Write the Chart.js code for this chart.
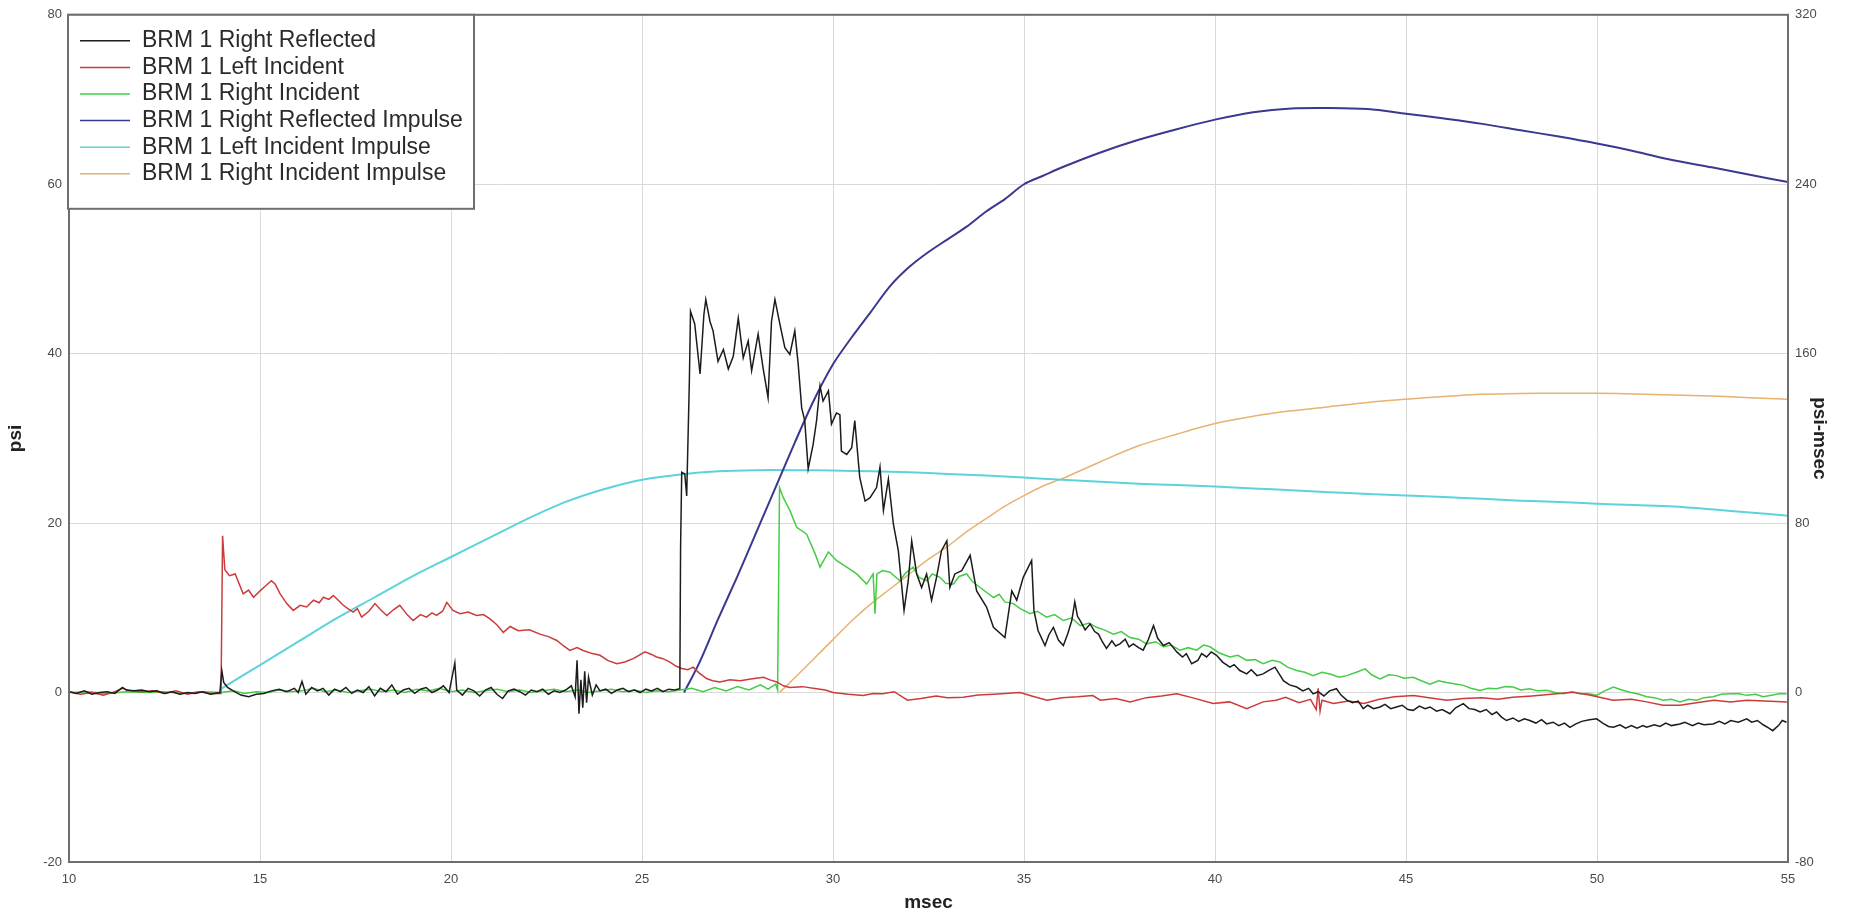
<!DOCTYPE html>
<html>
<head>
<meta charset="utf-8">
<title>BRM 1 pressure</title>
<script src="https://cdn.jsdelivr.net/npm/chart.js@4.4.1/dist/chart.umd.min.js"></script>
<style>
  html, body { margin: 0; padding: 0; background: #fff; }
  #wrap { width: 1857px; height: 914px; position: relative; }
</style>
</head>
<body>
<div id="wrap"><canvas id="myChart"></canvas></div>
<script>
// msec ticks and axis ranges
const xTicks = [10, 15, 20, 25, 30, 35, 40, 45, 50, 55];
const psiTicks = [-20, 0, 20, 40, 60, 80];
const impulseTicks = [-80, 0, 80, 160, 240, 320];

// BRM 1 Right Reflected (psi)
const blackTime = [10.0, 10.2, 10.4, 10.6, 10.8, 11.0, 11.2, 11.4, 11.5, 11.7, 11.9, 12.1, 12.3, 12.5, 12.7, 12.9, 13.1, 13.3, 13.5, 13.7, 13.95,
  14.0, 14.05, 14.15, 14.3, 14.5, 14.7, 14.9, 15.1, 15.3, 15.5, 15.7, 15.9, 16.0, 16.1, 16.2, 16.35, 16.5, 16.65, 16.8, 16.95,
  17.1, 17.25, 17.4, 17.55, 17.7, 17.85, 18.0, 18.15, 18.3, 18.45, 18.6, 18.75, 18.9, 19.05, 19.2, 19.35, 19.5, 19.65, 19.8, 19.95,
  20.1, 20.15, 20.3, 20.45, 20.6, 20.75, 20.9, 21.05, 21.2, 21.35, 21.5, 21.65, 21.8, 21.95, 22.1, 22.25, 22.4, 22.55, 22.7, 22.85,
  23.0, 23.15, 23.25, 23.3, 23.35, 23.4, 23.45, 23.5, 23.55, 23.6, 23.7, 23.8, 23.9, 24.05, 24.2, 24.35, 24.5, 24.65, 24.8, 24.95,
  25.1, 25.25, 25.4, 25.55, 25.7, 25.85, 25.99, 26.01, 26.04, 26.12, 26.17, 26.24, 26.27, 26.38, 26.52, 26.62, 26.67, 26.78, 26.86,
  26.99, 27.13, 27.26, 27.39, 27.52, 27.65, 27.78, 27.87, 28.04, 28.17, 28.3, 28.39, 28.48, 28.61, 28.74, 28.87, 29.0, 29.09, 29.18,
  29.26, 29.35, 29.48, 29.57, 29.66, 29.74, 29.88, 29.96, 30.09, 30.18, 30.22, 30.36, 30.49, 30.57, 30.7, 30.84, 30.97, 31.14, 31.23,
  31.32, 31.45, 31.58, 31.71, 31.86, 31.97, 32.06, 32.19, 32.32, 32.45, 32.58, 32.71, 32.84, 32.98, 33.06, 33.19, 33.37, 33.59, 33.76,
  34.02, 34.2, 34.5, 34.68, 34.81, 34.98, 35.2, 35.26, 35.37, 35.55, 35.65, 35.77, 35.9, 36.03, 36.15, 36.25, 36.33, 36.4, 36.47,
  36.6, 36.73, 36.85, 36.95, 37.05, 37.16, 37.3, 37.4, 37.51, 37.65, 37.75, 37.86, 38.0, 38.12, 38.25, 38.39, 38.5, 38.65, 38.8,
  39.0, 39.15, 39.25, 39.39, 39.55, 39.65, 39.78, 39.9, 40.04, 40.2, 40.39, 40.5, 40.65, 40.83, 40.95, 41.1, 41.26, 41.4, 41.57,
  41.68, 41.79, 41.95, 42.14, 42.3, 42.45, 42.57, 42.7, 42.85, 43.0, 43.18, 43.3, 43.45, 43.6, 43.75, 43.88, 44.0, 44.15, 44.32,
  44.45, 44.6, 44.75, 44.9, 45.05, 45.19, 45.35, 45.5, 45.63, 45.8, 45.95, 46.15, 46.3, 46.5, 46.65, 46.8, 46.94, 47.1, 47.25,
  47.37, 47.5, 47.63, 47.8, 47.95, 48.1, 48.24, 48.4, 48.55, 48.68, 48.85, 49.0, 49.15, 49.29, 49.45, 49.6, 49.8, 49.99, 50.15,
  50.3, 50.43, 50.6, 50.75, 50.9, 51.05, 51.2, 51.3, 51.5, 51.65, 51.8, 51.95, 52.17, 52.3, 52.5, 52.65, 52.8, 53.04, 53.2,
  53.35, 53.5, 53.7, 53.92, 54.05, 54.2, 54.35, 54.5, 54.6, 54.75, 54.85, 54.96];
const blackPsi = [0.1, -0.1, 0.2, -0.2, 0.0, 0.1, -0.1, 0.6, 0.3, 0.2, 0.3, 0.1, 0.2, -0.1, 0.1, -0.2, 0.0, -0.1, 0.1, -0.2, 0.0,
  2.6, 1.2, 0.6, 0.2, -0.3, -0.5, -0.2, -0.1, 0.2, 0.4, 0.1, 0.5, 0.0, 1.3, -0.2, 0.6, 0.2, 0.5, -0.3, 0.4,
  0.1, 0.6, -0.1, 0.3, 0.0, 0.7, -0.4, 0.5, 0.1, 0.9, -0.2, 0.3, 0.5, -0.1, 0.4, 0.6, 0.0, 0.3, 0.8, 0.0,
  3.5, 0.3, -0.3, 0.5, 0.2, -0.4, 0.3, 0.6, -0.2, -0.7, 0.2, 0.4, 0.1, -0.3, 0.3, 0.1, 0.4, -0.2, 0.2, 0.0,
  0.3, 0.8, -0.5, 3.8, -2.5, 1.5, -1.8, 2.5, -1.2, 1.8, -0.3, 0.9, 0.2, 0.4, -0.1, 0.3, 0.5, 0.1, 0.3, 0.0,
  0.4, 0.2, 0.5, 0.1, 0.4, 0.3, 0.45, 17.1, 26.0, 25.8, 23.2, 36.8, 45.0, 43.5, 37.6, 44.6, 46.4, 43.8, 42.7,
  39.1, 40.5, 38.2, 39.7, 44.2, 39.5, 41.5, 38.0, 42.3, 38.3, 34.8, 43.8, 46.4, 43.5, 40.7, 39.9, 42.7, 38.7, 33.6,
  32.1, 26.4, 29.3, 32.1, 36.2, 34.4, 35.6, 31.7, 33.0, 32.8, 28.5, 28.1, 28.9, 32.1, 25.4, 22.6, 23.0, 24.2, 26.6,
  21.5, 25.2, 19.9, 16.75, 9.7, 13.2, 17.9, 14.0, 12.4, 14.0, 10.9, 13.6, 16.75, 17.9, 12.4, 14.0, 14.4, 16.2, 12.0,
  10.1, 7.7, 6.5, 12.0, 10.9, 13.6, 15.6, 9.7, 7.3, 5.55, 6.8, 7.7, 6.2, 5.55, 7.0, 8.5, 10.7, 9.0, 8.5,
  7.4, 8.1, 7.2, 6.9, 6.0, 5.2, 6.1, 5.5, 5.75, 6.3, 5.4, 5.75, 5.3, 5.0, 6.2, 7.9, 6.4, 5.55, 5.9,
  4.8, 4.2, 4.6, 3.4, 3.8, 4.6, 4.2, 4.8, 4.4, 3.6, 3.0, 3.3, 2.6, 2.2, 2.7, 2.0, 2.2, 2.6, 3.0,
  2.2, 1.4, 0.9, 0.65, 0.2, 0.5, -0.15, 0.1, -0.4, 0.2, 0.45, -0.3, -0.9, -1.2, -1.0, -1.9, -1.5, -1.9, -1.7,
  -1.4, -1.9, -1.7, -1.5, -2.0, -2.1, -1.6, -1.9, -1.7, -2.2, -2.0, -2.5, -1.8, -1.3, -1.9, -2.0, -2.3, -2.0, -2.6,
  -2.3, -2.9, -3.3, -3.0, -3.4, -3.1, -3.3, -3.6, -3.2, -3.7, -3.5, -3.9, -3.6, -4.1, -3.7, -3.4, -3.2, -3.1, -3.6,
  -4.0, -4.1, -3.8, -4.2, -3.9, -4.2, -3.9, -4.1, -3.8, -4.0, -3.6, -3.9, -3.7, -3.5, -3.9, -3.6, -3.8, -3.7, -3.4,
  -3.7, -3.3, -3.5, -3.1, -3.5, -3.3, -3.8, -4.2, -4.5, -3.9, -3.3, -3.5];

// BRM 1 Left Incident (psi)
const redTime = [10.0, 10.3, 10.6, 10.9, 11.2, 11.4, 11.6, 11.9, 12.2, 12.5, 12.8, 13.1, 13.4, 13.7, 13.98,
  14.02, 14.08, 14.2, 14.35, 14.56, 14.7, 14.83, 15.0, 15.15, 15.3, 15.4, 15.52, 15.7, 15.87, 16.05, 16.22, 16.4, 16.55, 16.66,
  16.8, 16.92, 17.05, 17.18, 17.3, 17.44, 17.55, 17.66, 17.85, 18.01, 18.15, 18.32, 18.5, 18.66, 18.85, 19.01, 19.2, 19.36, 19.5,
  19.62, 19.78, 19.89, 20.05, 20.24, 20.45, 20.67, 20.85, 21.02, 21.2, 21.37, 21.55, 21.76, 22.05, 22.33, 22.55, 22.77, 22.95,
  23.11, 23.3, 23.46, 23.7, 23.9, 24.1, 24.34, 24.55, 24.77, 25.08, 25.25, 25.38, 25.55, 25.73, 25.9, 26.04, 26.2, 26.34, 26.5,
  26.69, 26.85, 27.04, 27.3, 27.57, 27.85, 28.18, 28.35, 28.53, 28.7, 28.87, 29.2, 29.57, 29.8, 30.0, 30.4, 30.79, 31.05, 31.3,
  31.6, 31.95, 32.3, 32.7, 33.0, 33.41, 33.8, 34.2, 34.5, 34.9, 35.2, 35.6, 36.0, 36.4, 36.8, 37.0, 37.4, 37.78, 38.2, 38.6,
  39.0, 39.4, 39.95, 40.38, 40.83, 41.26, 41.6, 41.85, 42.2, 42.5, 42.65, 42.7, 42.75, 42.8, 43.1, 43.5, 43.9, 44.3, 44.7, 45.2,
  45.6, 46.07, 46.5, 47.0, 47.4, 47.8, 48.3, 48.8, 49.37, 49.8, 50.42, 50.9, 51.3, 51.73, 52.17, 52.6, 53.06, 53.5, 53.92, 54.4, 54.97];
const redPsi = [0.1, -0.2, 0.0, -0.3, 0.1, 0.5, 0.2, 0.1, 0.2, -0.1, 0.2, -0.2, 0.1, -0.1, -0.1,
  18.5, 14.5, 13.8, 14.0, 11.65, 12.1, 11.25, 12.0, 12.6, 13.2, 12.8, 11.7, 10.5, 9.7, 10.3, 10.1, 10.9, 10.6, 11.25,
  11.0, 11.45, 10.9, 10.3, 9.9, 9.5, 9.9, 8.9, 9.6, 10.5, 9.8, 9.1, 9.8, 10.3, 9.2, 8.5, 9.2, 8.9, 9.4,
  9.1, 9.6, 10.65, 9.7, 9.3, 9.5, 9.1, 9.2, 8.7, 8.0, 7.1, 7.8, 7.3, 7.4, 6.9, 6.6, 6.15, 5.5,
  4.97, 5.3, 4.97, 4.6, 4.4, 3.8, 3.4, 3.6, 4.0, 4.8, 4.5, 4.2, 4.0, 3.6, 3.1, 2.85, 2.7, 3.0, 2.3,
  1.65, 1.4, 1.25, 1.5, 1.4, 1.6, 1.8, 1.5, 1.25, 0.8, 0.6, 0.7, 0.45, 0.3, 0.0, -0.2, -0.35, -0.1, -0.15,
  0.1, -0.9, -0.7, -0.4, -0.6, -0.55, -0.3, -0.2, -0.1, 0.0, -0.4, -0.9, -0.6, -0.5, -0.35, -0.9, -0.7, -1.1, -0.6, -0.4,
  -0.15, -0.6, -1.3, -1.1, -1.9, -1.1, -0.9, -0.55, -1.2, -0.8, -2.0, 0.5, -2.2, -0.9, -1.3, -1.0, -1.3, -0.8, -0.5, -0.35,
  -0.6, -0.9, -0.7, -0.6, -0.8, -0.55, -0.4, -0.2, 0.04, -0.3, -0.9, -0.8, -1.1, -1.5, -1.5, -1.2, -0.9, -1.1, -0.9, -1.0, -1.1];

// BRM 1 Right Incident (psi)
const greenTime = [10.0, 10.5, 11.0, 11.5, 12.0, 12.5, 13.0, 13.5, 14.0, 14.3, 14.6, 14.9, 15.2, 15.5, 15.8, 16.1, 16.4, 16.7,
  17.0, 17.3, 17.6, 17.9, 18.2, 18.5, 18.8, 19.1, 19.4, 19.7, 20.0, 20.3, 20.6, 20.9, 21.2, 21.5, 21.8, 22.1, 22.4, 22.7,
  23.0, 23.3, 23.6, 23.9, 24.2, 24.5, 24.8, 25.1, 25.4, 25.7, 26.0, 26.3, 26.6, 26.9, 27.2, 27.5, 27.8, 28.1, 28.3, 28.5, 28.55,
  28.6, 28.7, 28.87, 29.05, 29.31, 29.53, 29.66, 29.88, 30.09, 30.36, 30.62, 30.88, 31.05, 31.1, 31.15, 31.3, 31.49, 31.75,
  31.9, 32.1, 32.25, 32.45, 32.6, 32.8, 32.95, 33.15, 33.3, 33.5, 33.65, 33.85, 34.0, 34.2, 34.35, 34.5, 34.72, 34.9, 35.16,
  35.35, 35.59, 35.8, 36.03, 36.25, 36.47, 36.7, 36.9, 37.1, 37.34, 37.55, 37.77, 38.0, 38.21, 38.45, 38.65, 38.85, 39.08,
  39.3, 39.52, 39.7, 39.87, 40.1, 40.39, 40.6, 40.83, 41.05, 41.26, 41.5, 41.7, 41.9, 42.14, 42.35, 42.57, 42.8, 43.01,
  43.25, 43.45, 43.7, 43.93, 44.1, 44.32, 44.55, 44.75, 44.95, 45.19, 45.4, 45.63, 45.85, 46.06, 46.3, 46.5, 46.7, 46.94,
  47.15, 47.37, 47.6, 47.81, 48.0, 48.24, 48.45, 48.68, 48.9, 49.12, 49.35, 49.55, 49.75, 49.99, 50.2, 50.43, 50.65, 50.86,
  51.1, 51.3, 51.5, 51.73, 51.95, 52.17, 52.4, 52.61, 52.8, 53.04, 53.25, 53.48, 53.7, 53.92, 54.15, 54.35, 54.6, 54.8, 54.96];
const greenPsi = [0.0, 0.1, -0.1, 0.1, 0.0, 0.1, -0.1, 0.1, 0.0, 0.2, -0.1, 0.1, 0.0, 0.3, 0.1, 0.2, 0.5, 0.1,
  0.3, 0.0, 0.2, 0.4, 0.1, 0.3, 0.0, 0.4, 0.2, 0.5, 0.1, 0.3, 0.0, 0.2, 0.4, 0.1, 0.3, 0.0, 0.2, 0.4,
  0.1, 0.3, 0.0, 0.2, 0.4, 0.1, 0.3, 0.0, 0.2, 0.1, 0.3, 0.5, 0.1, 0.6, 0.2, 0.7, 0.3, 0.9, 0.4, 1.0, 0.3,
  24.2, 23.0, 21.5, 19.5, 18.7, 16.4, 14.8, 16.6, 15.6, 14.8, 14.0, 12.8, 14.0, 9.3, 14.0, 14.4, 14.2, 13.2,
  14.1, 14.8, 13.6, 13.2, 14.0, 13.6, 12.9, 12.8, 13.7, 14.0, 13.1, 12.4, 11.9, 11.2, 11.6, 10.7, 10.5, 9.9, 9.3,
  9.6, 8.9, 9.2, 8.5, 8.8, 7.9, 8.2, 7.7, 7.4, 6.9, 7.2, 6.5, 6.3, 5.75, 6.0, 5.4, 5.6, 5.0,
  5.3, 5.0, 5.6, 5.4, 4.7, 4.2, 4.4, 3.8, 3.9, 3.4, 3.8, 3.6, 3.0, 2.6, 2.4, 2.0, 2.4, 2.2,
  1.8, 2.0, 2.4, 2.8, 2.1, 1.6, 2.1, 2.0, 1.7, 1.8, 1.4, 1.0, 1.4, 1.2, 1.0, 0.85, 0.5, 0.26,
  0.5, 0.45, 0.7, 0.65, 0.3, 0.45, 0.2, 0.26, 0.0, -0.13, 0.1, -0.13, -0.1, -0.33, 0.2, 0.65, 0.3, 0.04,
  -0.2, -0.5, -0.6, -0.9, -0.8, -1.1, -0.8, -0.9, -0.6, -0.5, -0.2, -0.13, -0.1, -0.33, -0.2, -0.5, -0.3, -0.1, -0.13];

// BRM 1 Right Reflected Impulse (psi-msec)
const purpleTime = [26.1, 26.5, 27, 27.5, 28, 28.5, 29, 29.5, 30, 30.5, 31, 31.5, 32, 32.5, 33, 33.5, 34, 34.5, 35, 35.5,
  36, 37, 38, 39, 40, 41, 42, 43, 44, 45, 46, 47, 48, 49, 50, 51, 52, 53, 54, 55];
const purpleImp = [0, 14, 35, 55, 76, 97, 118, 138, 155, 168, 180, 192, 201, 208, 214, 220, 227, 233, 240, 244,
  248, 255, 261, 266, 270.5, 274, 275.8, 276, 275.5, 273.3, 271, 268.5, 265.5, 262.5, 259.2, 255.5, 251.3, 248, 244.5, 241];

// BRM 1 Left Incident Impulse (psi-msec)
const cyanTime = [14, 15, 16, 17, 18, 19, 20, 21, 22, 23, 24, 25, 26, 27, 28, 29, 30, 31, 32, 33, 34, 35,
  36, 37, 38, 39, 40, 41, 42, 43, 44, 45, 46, 47, 48, 49, 50, 51, 52, 53, 54, 55];
const cyanImp = [2, 13, 24, 35, 45, 55, 64, 73, 82, 90, 96, 100.5, 103, 104.5, 105, 105, 104.8, 104.5, 104, 103.2, 102.5, 101.5,
  100.5, 99.5, 98.6, 98, 97.3, 96.4, 95.5, 94.6, 93.8, 93, 92.3, 91.5, 90.6, 90, 89.2, 88.5, 87.8, 86.5, 85, 83.5];

// BRM 1 Right Incident Impulse (psi-msec)
const orangeTime = [28.6, 29, 29.5, 30, 30.5, 31, 31.5, 32, 32.5, 33, 33.5, 34, 34.5, 35, 35.5, 36, 37, 38, 39, 40,
  41, 42, 43, 44, 45, 46, 47, 48, 49, 50, 51, 52, 53, 54, 55];
const orangeImp = [0, 7, 16, 25, 34, 42, 49, 56, 63, 69, 76, 82, 88, 93, 97.5, 101, 109, 116.5, 122, 127,
  130.5, 133, 135, 137, 138.5, 139.8, 140.8, 141.2, 141.3, 141.3, 141, 140.5, 140, 139.2, 138.5];

const FONT = '"Liberation Sans", Arial, sans-serif';

function pts(t, v) {
  return t.map((x, i) => ({ x: x, y: v[i] }));
}

function series(label, t, v, color, axis, width, smooth) {
  return {
    label: label,
    data: pts(t, v),
    borderColor: color,
    backgroundColor: color,
    borderWidth: width,
    pointRadius: 0,
    tension: smooth ? 0.3 : 0,
    yAxisID: axis,
  };
}

// frame round the plot and the boxed legend in the upper left corner
const frameAndLegend = {
  id: 'frameAndLegend',
  afterDraw(chart) {
    const { ctx, chartArea } = chart;
    ctx.save();
    ctx.strokeStyle = '#6e6e6e';
    ctx.lineWidth = 2;
    ctx.strokeRect(chartArea.left, chartArea.top, chartArea.right - chartArea.left, chartArea.bottom - chartArea.top);

    const x0 = chartArea.left - 1, y0 = chartArea.top;
    ctx.fillStyle = '#fff';
    ctx.fillRect(x0, y0, 406, 194);
    ctx.strokeStyle = '#6e6e6e';
    ctx.lineWidth = 2;
    ctx.strokeRect(x0, y0, 406, 194);

    ctx.font = '23px ' + FONT;
    ctx.textBaseline = 'middle';
    chart.data.datasets.forEach((ds, i) => {
      const y = y0 + 26 + i * 26.6;
      ctx.strokeStyle = ds.borderColor;
      ctx.lineWidth = 1.5;
      ctx.beginPath();
      ctx.moveTo(x0 + 12, y);
      ctx.lineTo(x0 + 62, y);
      ctx.stroke();
      ctx.fillStyle = '#2a2a2a';
      ctx.fillText(ds.label, x0 + 74, y);
    });
    ctx.restore();
  }
};

const tickFont = { family: FONT, size: 13 };
const titleFont = { family: FONT, size: 19, weight: 'bold' };

const config = {
  type: 'line',
  data: {
    datasets: [
      series('BRM 1 Right Reflected', blackTime, blackPsi, '#1c1c1c', 'y', 1.5, false),
      series('BRM 1 Left Incident', redTime, redPsi, '#cc3b3b', 'y', 1.5, false),
      series('BRM 1 Right Incident', greenTime, greenPsi, '#45cc45', 'y', 1.5, false),
      series('BRM 1 Right Reflected Impulse', purpleTime, purpleImp, '#3a3890', 'y2', 2, true),
      series('BRM 1 Left Incident Impulse', cyanTime, cyanImp, '#5cd3dc', 'y2', 2, true),
      series('BRM 1 Right Incident Impulse', orangeTime, orangeImp, '#e8b270', 'y2', 1.5, true),
    ]
  },
  options: {
    responsive: true,
    maintainAspectRatio: false,
    animation: false,
    layout: { padding: { top: 13, left: 0, right: 0, bottom: 0 } },
    plugins: {
      legend: { display: false },
      tooltip: { enabled: false },
    },
    scales: {
      x: {
        type: 'linear',
        min: xTicks[0],
        max: xTicks[xTicks.length - 1],
        afterBuildTicks: s => { s.ticks = xTicks.map(v => ({ value: v })); },
        afterFit: s => { s.height = 52; },
        ticks: { font: tickFont, color: '#4a4a4a', padding: 10, maxRotation: 0 },
        grid: { color: '#d9d9d9', drawTicks: false },
        border: { display: false },
        title: { display: true, text: 'msec', font: titleFont, color: '#222', padding: 0 },
      },
      y: {
        position: 'left',
        min: psiTicks[0],
        max: psiTicks[psiTicks.length - 1],
        afterBuildTicks: s => { s.ticks = psiTicks.map(v => ({ value: v })); },
        afterFit: s => { s.width = 69; },
        ticks: { font: tickFont, color: '#4a4a4a', padding: 7 },
        grid: { color: '#d9d9d9', drawTicks: false },
        border: { display: false },
        title: { display: true, text: 'psi', font: titleFont, color: '#222', padding: { top: 4, bottom: 0 } },
      },
      y2: {
        position: 'right',
        min: impulseTicks[0],
        max: impulseTicks[impulseTicks.length - 1],
        afterBuildTicks: s => { s.ticks = impulseTicks.map(v => ({ value: v })); },
        afterFit: s => { s.width = 69; },
        ticks: { font: tickFont, color: '#4a4a4a', padding: 7 },
        grid: { drawOnChartArea: false, drawTicks: false },
        border: { display: false },
        title: { display: true, text: 'psi-msec', font: titleFont, color: '#222', padding: { top: 26, bottom: 0 } },
      },
    }
  },
  plugins: [frameAndLegend]
};

const myChart = new Chart(document.getElementById('myChart'), config);
</script>
</body>
</html>
